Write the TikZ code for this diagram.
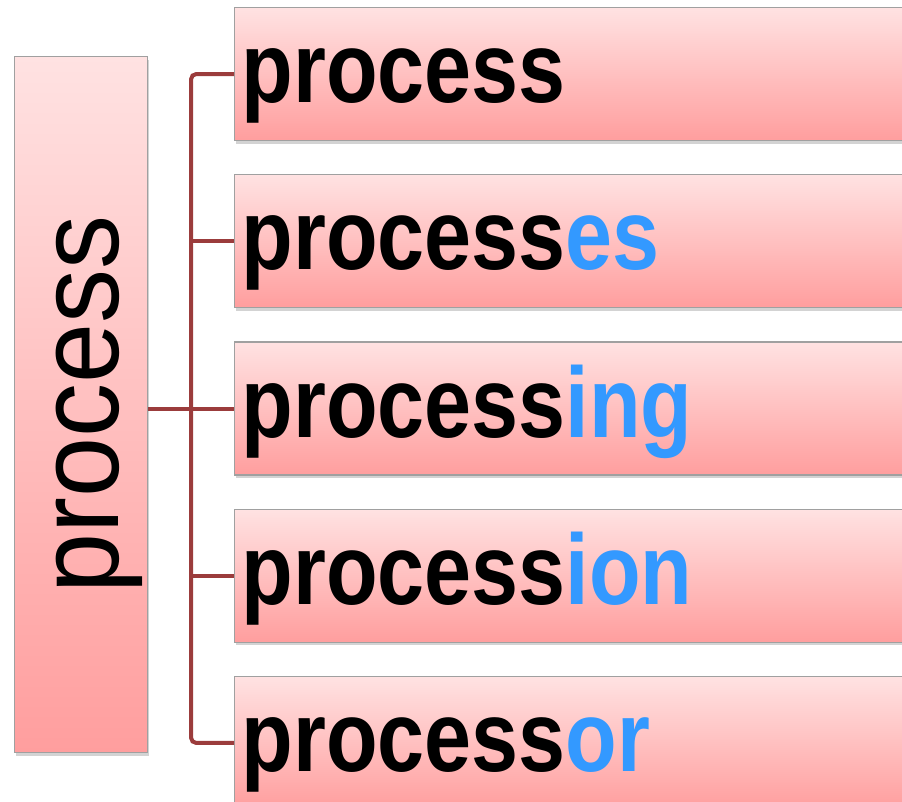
\documentclass[tikz,border=0pt]{standalone}
\usepackage{fontspec}
\setmainfont{Liberation Sans}
\newfontfamily\wordfont[FakeStretch=0.845]{Liberation Sans Bold}
\newfontfamily\stemfont[FakeStretch=0.93]{Liberation Sans}
\usepackage{xcolor}
\usetikzlibrary{positioning,shadows,calc}

\definecolor{boxtop}{RGB}{255,226,226}
\definecolor{boxbottom}{RGB}{255,158,158}
\definecolor{boxline}{RGB}{160,160,160}
\definecolor{linkred}{RGB}{155,60,60}
\definecolor{suffixblue}{RGB}{51,153,255}
\newcommand{\sfx}[1]{\textcolor{suffixblue}{#1}}

\begin{document}
\begin{tikzpicture}[
    x=1pt, y=-1pt,
    node distance=33pt,
    pinkbox/.style={rectangle, draw=boxline, line width=1.2pt, top color=boxtop, bottom color=boxbottom,
        drop shadow={shadow xshift=1.5pt, shadow yshift=-3pt, opacity=0.35}},
    wordbox/.style={pinkbox, minimum width=740pt, minimum height=133pt, text width=726pt, align=left,
        inner xsep=7pt, text height=57pt, text depth=0pt, font=\wordfont\fontsize{100}{100}\selectfont},
    link/.style={draw=linkred, line width=4pt}
]
    \useasboundingbox (0,0) rectangle (902,802);
    \clip (0,0) rectangle (902,802);

    \node[pinkbox, anchor=north west, minimum width=133pt, minimum height=696pt, inner sep=0pt] (stem) at (14,56)
        {\rotatebox{90}{\stemfont\fontsize{116}{116}\selectfont\rule[-23pt]{0pt}{121pt}process}};

    \node[wordbox, anchor=north west] (w1) at (234,7) {process};
    \node[wordbox, below=of w1] (w2) {process\sfx{es}};
    \node[wordbox, below=of w2] (w3) {process\sfx{ing}};
    \node[wordbox, below=of w3] (w4) {process\sfx{ion}};
    \node[wordbox, below=of w4] (w5) {process\sfx{or}};

    \coordinate (spine) at ($(stem.east)!0.5!(w3.west)$);

    \draw[link, rounded corners=5pt] (w1.west) -| (spine) |- (w5.west);
    \draw[link] (stem.east |- w3.west) -- (w3.west);
    \draw[link] (spine |- w2.west) -- (w2.west);
    \draw[link] (spine |- w4.west) -- (w4.west);
\end{tikzpicture}
\end{document}
